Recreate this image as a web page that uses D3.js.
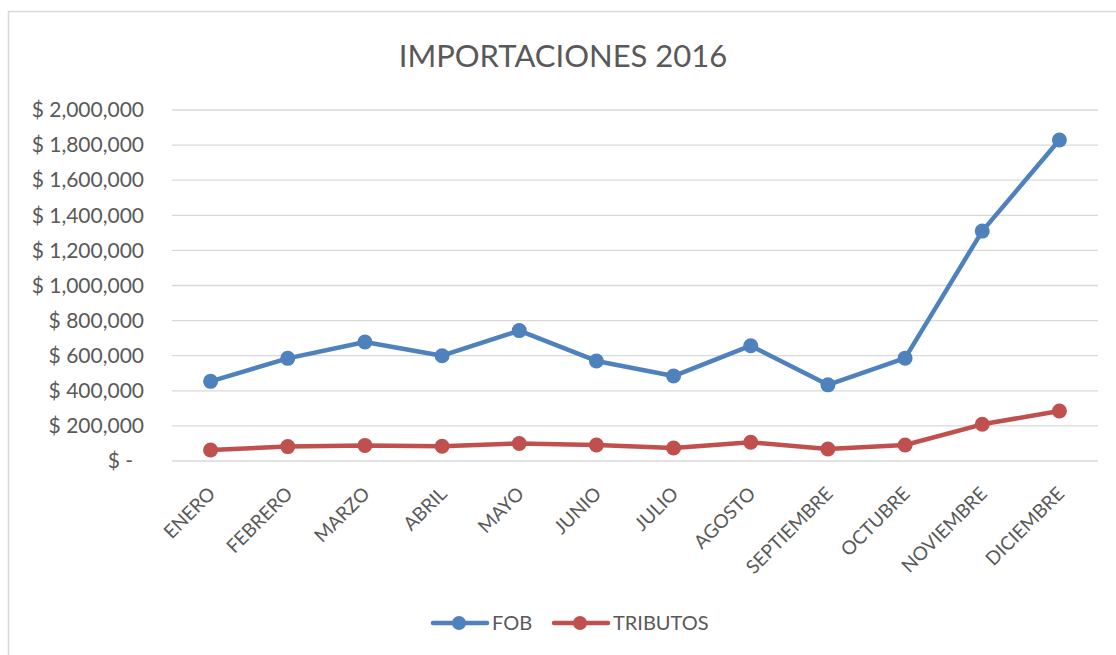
<!DOCTYPE html>
<html>
<head>
<meta charset="utf-8">
<title>Importaciones 2016</title>
<script src="https://cdn.jsdelivr.net/npm/d3@7"></script>
<style>
  body { margin: 0; background: #fff; }
  text { font-family: Lato, "Open Sans", sans-serif; fill: #595959; }
</style>
</head>
<body>
<script>
// data
var months = ["ENERO", "FEBRERO", "MARZO", "ABRIL", "MAYO", "JUNIO", "JULIO",
              "AGOSTO", "SEPTIEMBRE", "OCTUBRE", "NOVIEMBRE", "DICIEMBRE"];
var fob = [454000, 585000, 678000, 600000, 743000, 570000, 484000, 657000, 434000, 586000, 1310000, 1829000];
var tributos = [63000, 82000, 89000, 84000, 100000, 91000, 74000, 107000, 68000, 91000, 209000, 285000];
var yTicks = [0, 200000, 400000, 600000, 800000, 1000000, 1200000, 1400000, 1600000, 1800000, 2000000];
var seriesNames = ["FOB", "TRIBUTOS"];
var colors = ["#4f81bd", "#c0504d"];

var W = 1116, H = 655;
// plot area (window.top is reserved, so use a margin object)
var plot = {left: 172, right: 1098, top: 110, bottom: 461};

var svg = d3.select("body").append("svg")
    .attr("width", W)
    .attr("height", H);

// chart frame
svg.append("rect")
    .attr("x", 8.5).attr("y", 11.5)
    .attr("width", 1120).attr("height", 660)
    .attr("fill", "none").attr("stroke", "#d9d9d9").attr("stroke-width", 1.5);

// scales
var x = d3.scaleBand().domain(months).range([plot.left, plot.right]);
var y = d3.scaleLinear().domain([0, 2000000]).range([plot.bottom, plot.top]);
var xc = function(d) { return x(d) + x.bandwidth() / 2; };

// gridlines
svg.append("g").selectAll("line")
    .data(yTicks).enter().append("line")
    .attr("x1", plot.left).attr("x2", plot.right)
    .attr("y1", function(d) { return y(d); })
    .attr("y2", function(d) { return y(d); })
    .attr("stroke", "#d9d9d9").attr("stroke-width", 1.3);

// y axis labels (accounting style: "$ -" for zero)
var fmt = d3.format(",");
var yaxis = d3.axisLeft(y)
    .tickValues(yTicks)
    .tickSize(0)
    .tickPadding(28)
    .tickFormat(function(d) { return d === 0 ? "$ -" : "$ " + fmt(d); });
svg.append("g")
    .attr("transform", "translate(" + plot.left + ",0)")
    .call(yaxis)
    .call(function(g) { g.select(".domain").remove(); })
    .selectAll("text")
    .attr("font-size", "21px")
    .attr("font-family", "Lato, sans-serif")
    .attr("fill", "#595959")
    .attr("dx", function(d) { return d === 0 ? -11 : 0; });

// x axis labels, rotated
svg.append("g").selectAll("text")
    .data(months).enter().append("text")
    .attr("transform", function(d) { return "translate(" + (xc(d) + 6) + ",495) rotate(-45)"; })
    .attr("text-anchor", "end")
    .attr("font-size", "19px")
    .text(function(d) { return d; });

// lines and markers
var line = d3.line()
    .x(function(d, i) { return xc(months[i]); })
    .y(function(d) { return y(d); });

[fob, tributos].forEach(function(vals, s) {
    var g = svg.append("g");
    g.append("path")
        .datum(vals)
        .attr("d", line)
        .attr("fill", "none")
        .attr("stroke", colors[s])
        .attr("stroke-width", 4.5)
        .attr("stroke-linejoin", "round")
        .attr("stroke-linecap", "round");
    g.selectAll("circle")
        .data(vals).enter().append("circle")
        .attr("cx", function(d, i) { return xc(months[i]); })
        .attr("cy", function(d) { return y(d); })
        .attr("r", 7.5)
        .attr("fill", colors[s]);
});

// title
svg.append("text")
    .attr("x", 563).attr("y", 67)
    .attr("text-anchor", "middle")
    .attr("font-size", "31px")
    .text("IMPORTACIONES 2016");

// legend
var legendX = [433, 554];
seriesNames.forEach(function(name, s) {
    var lg = svg.append("g").attr("transform", "translate(" + legendX[s] + ",623)");
    lg.append("line")
        .attr("x1", 0).attr("x2", 54)
        .attr("stroke", colors[s]).attr("stroke-width", 4.5)
        .attr("stroke-linecap", "round");
    lg.append("circle").attr("cx", 26).attr("r", 7).attr("fill", colors[s]);
    lg.append("text")
        .attr("x", 59).attr("y", 7)
        .attr("font-size", "20px")
        .text(name);
});
</script>
</body>
</html>
